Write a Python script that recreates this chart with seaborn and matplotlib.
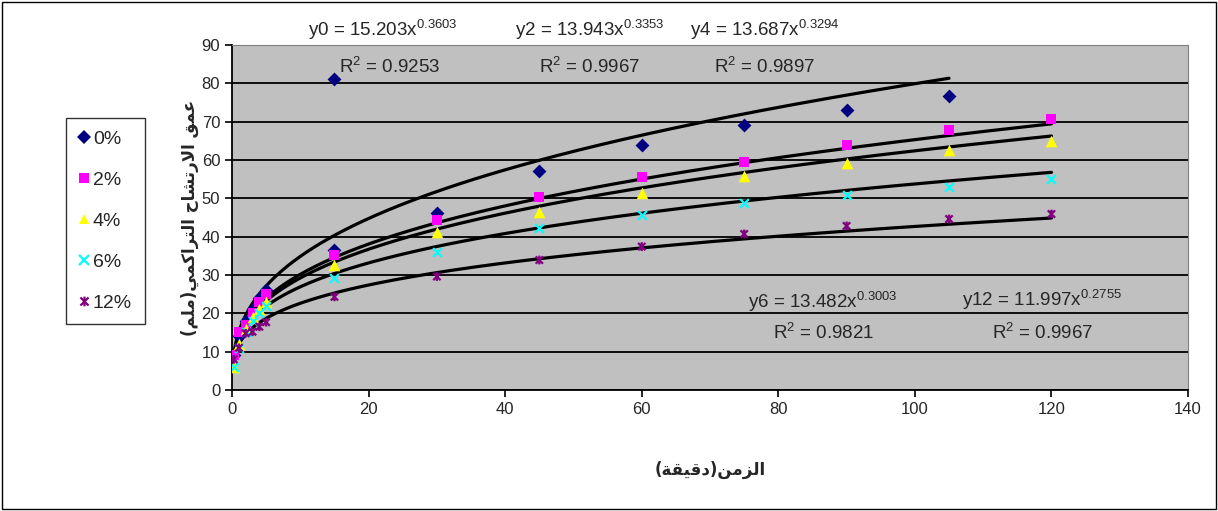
import numpy as np
import pandas as pd
import seaborn as sns
import matplotlib.pyplot as plt
from matplotlib.path import Path
from matplotlib.lines import Line2D
from matplotlib.patches import Rectangle

# time (minutes) and cumulative infiltration depth (mm)
time_0 = [0.25, 1, 2, 3, 4, 5, 15, 15, 30, 45, 60, 75, 90, 105]
depth_0 = [9, 14, 18, 21, 24, 26, 81, 36.5, 46.2, 57.0, 63.9, 69.1, 73.0, 76.7]

time_all = [0.25, 1, 2, 3, 4, 5, 15, 30, 45, 60, 75, 90, 105, 120]
depth_2 = [9, 15, 17, 20, 23, 25, 35.2, 44.3, 50.4, 55.5, 59.6, 63.9, 67.8, 70.7]
depth_4 = [6, 12, 16, 19, 21, 23, 32.6, 41.3, 46.5, 51.5, 55.7, 59.3, 62.6, 65.0]
depth_6 = [6, 11, 15, 18, 20, 22, 29.2, 36.1, 42.2, 45.7, 48.7, 50.9, 53.0, 55.0]
depth_12 = [8, 11, 14.8, 15.2, 16.5, 17.7, 24.3, 29.6, 33.9, 37.4, 40.7, 42.8, 44.6, 45.9]

labels = ['0%', '2%', '4%', '6%', '12%']
# power trend lines printed on the chart: y = a * x^b
coef_a = [15.203, 13.943, 13.687, 13.482, 11.997]
coef_b = [0.3603, 0.3353, 0.3294, 0.3003, 0.2755]
r2 = ['0.9253', '0.9967', '0.9897', '0.9821', '0.9967']
names = ['y0', 'y2', 'y4', 'y6', 'y12']

series = [(time_0, depth_0), (time_all, depth_2), (time_all, depth_4),
          (time_all, depth_6), (time_all, depth_12)]
colors = ['#000080', '#FF00FF', '#FFFF00', '#00FFFF', '#800080']

star = Path([(-1, -1), (1, 1), (-1, 1), (1, -1), (0, -1.2), (0, 1.2)],
            [Path.MOVETO, Path.LINETO, Path.MOVETO, Path.LINETO, Path.MOVETO, Path.LINETO])
markers = ['D', 's', '^', 'x', star]
msizes = [50, 50, 70, 40, 40]

sns.set_style('white')
plt.rcParams['font.family'] = ['Liberation Sans', 'DejaVu Sans']
plt.rcParams['mathtext.fontset'] = 'custom'
plt.rcParams['mathtext.rm'] = 'Liberation Sans'
plt.rcParams['mathtext.default'] = 'regular'

fig = plt.figure(figsize=(12.18, 5.11), dpi=100)
ax = fig.add_axes([0.1905, 0.2368, 0.7849, 0.6752])
ax.set_facecolor('#C0C0C0')

for (t, d), a, b, c, m, s in zip(series, coef_a, coef_b, colors, markers, msizes):
    xs = np.geomspace(min(t), max(t), 300)
    sns.lineplot(x=xs, y=a * xs ** b, color='black', lw=2.3, ax=ax, zorder=3)
    if m == 'x':
        sns.scatterplot(x=t, y=d, marker=m, s=s, color=c, linewidth=1.6, ax=ax, zorder=4)
    elif isinstance(m, Path):
        sns.scatterplot(x=t, y=d, marker=m, s=s, facecolor='none', edgecolor=c,
                        linewidth=1.6, ax=ax, zorder=4)
    else:
        sns.scatterplot(x=t, y=d, marker=m, s=s, color=c, edgecolor=c,
                        linewidth=0, ax=ax, zorder=4)

ax.set_xlim(0, 140)
ax.set_ylim(0, 90)
ax.set_xticks(range(0, 141, 20))
ax.set_yticks(range(0, 91, 10))
ax.yaxis.grid(True, color='black', lw=1.3)
ax.set_axisbelow(True)
ax.tick_params(labelsize=12, direction='out', length=5, width=1.2, color='black',
               left=True, bottom=True)
for side in ['top', 'right']:
    ax.spines[side].set_color('#808080')
for side in ['left', 'bottom']:
    ax.spines[side].set_color('black')
    ax.spines[side].set_linewidth(1.3)

# Arabic labels in presentation forms, visual order
xlab = '(\uFE94\uFED8\uFEF4\uFED7\uFEA9)\uFEE6\uFEE3\uFEB0\uFEDF\uFE8D'
ylab = ('(\uFEE2\uFEE0\uFEE3)\uFEF2\uFEE4\uFEDB\uFE8D\uFEAE\uFE98\uFEDF\uFE8D'
        ' \uFEA1\uFE8E\uFEB8\uFE97\uFEAD\uFEFB\uFE8D \uFED6\uFEE4\uFECB')
ax.set_xlabel(xlab, family='DejaVu Sans', fontweight='bold', fontsize=12, labelpad=32)
ax.set_ylabel(ylab, family='DejaVu Sans', fontweight='bold', fontsize=12, labelpad=2)

# trend line equations (pixel centres converted to data coords)
eq_pos = [(383, 30), (590, 30), (765, 30), (823, 302), (1042, 300)]
r2_pos = [(390, 67), (590, 67), (765, 67), (824, 333), (1043, 333)]
for n, a, b, r, (ex, ey), (rx, ry) in zip(names, coef_a, coef_b, r2, eq_pos, r2_pos):
    ax.text((ex - 232) / 6.83, (390 - ey) / 3.833, f'{n} = {a:.3f}x$^{{{b:.4f}}}$',
            ha='center', va='center', fontsize=13.5, clip_on=False, zorder=5)
    ax.text((rx - 232) / 6.83, (390 - ry) / 3.833, f'R$^{{2}}$ = {r}',
            ha='center', va='center', fontsize=13.5, clip_on=False, zorder=5)

handles = [Line2D([], [], ls='none', marker=m, color=c, markersize=7,
                  markeredgewidth=1.6 if (m == 'x' or isinstance(m, Path)) else 0,
                  markerfacecolor='none' if isinstance(m, Path) else c)
           for m, c in zip(markers, colors)]
fig.legend(handles, labels, loc='upper left', bbox_to_anchor=(0.054, 0.77),
           fontsize=14, frameon=True, fancybox=False, edgecolor='black',
           labelspacing=1.2, handletextpad=0.15, handlelength=0.6, borderpad=0.65,
           borderaxespad=0)

fig.patches.append(Rectangle((0.002, 0.004), 0.996, 0.992, transform=fig.transFigure,
                             fill=False, edgecolor='black', lw=1))
fig.savefig('out.png', dpi=100)
